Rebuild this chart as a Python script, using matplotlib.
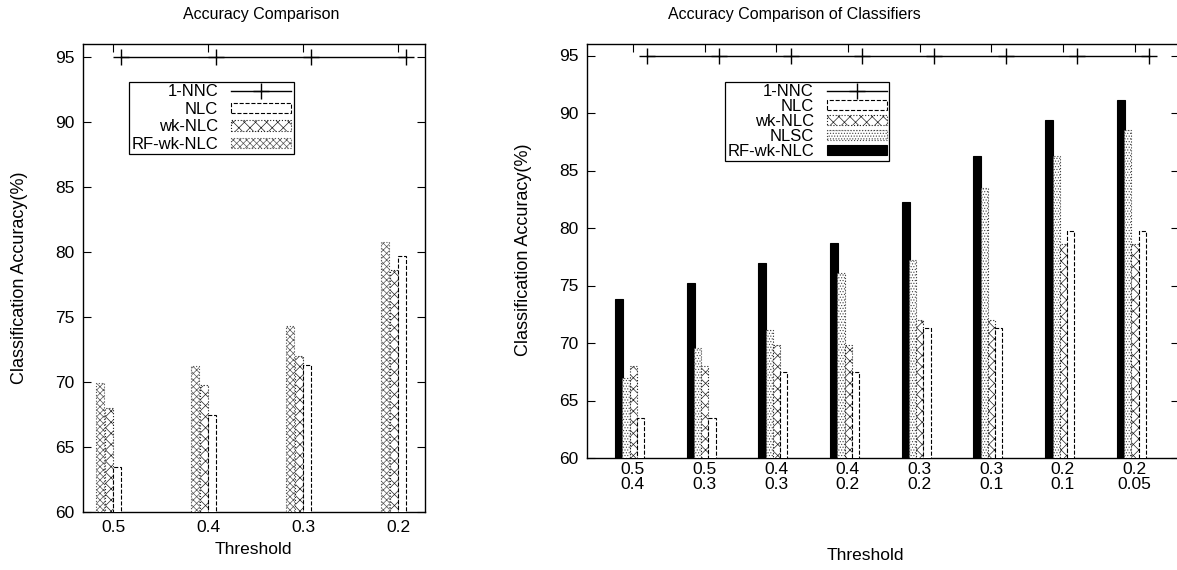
import numpy as np
import matplotlib
matplotlib.use("Agg")
from matplotlib import pyplot as plt
from matplotlib.lines import Line2D

plt.rcParams['font.family'] = ['Liberation Sans', 'DejaVu Sans']
plt.rcParams['hatch.linewidth'] = 0.5

# left chart data
thr_left = ["0.5", "0.4", "0.3", "0.2"]
nnc_left = [95, 95, 95, 95]
nlc_left = [63.5, 67.5, 71.3, 79.7]
wk_left = [68.0, 69.8, 72.0, 78.6]
rf_left = [69.9, 71.2, 74.3, 80.8]

# right chart data
thr_right = ["0.5\n0.4", "0.5\n0.3", "0.4\n0.3", "0.4\n0.2",
             "0.3\n0.2", "0.3\n0.1", "0.2\n0.1", "0.2\n0.05"]
nnc_right = [95, 95, 95, 95, 95, 95, 95, 95]
nlc_right = [63.5, 63.5, 67.5, 67.5, 71.3, 71.3, 79.7, 79.7]
wk_right = [68.0, 68.0, 69.8, 69.8, 72.0, 72.0, 78.6, 78.6]
nlsc_right = [67.0, 69.6, 71.1, 76.1, 77.2, 83.5, 86.3, 88.5]
rf_right = [73.8, 75.2, 77.0, 78.7, 82.3, 86.3, 89.4, 91.1]

W, H = 1177, 570
fig = plt.figure(figsize=(W / 100, H / 100), dpi=100)

def px_axes(x0, y0, x1, y1):
    return fig.add_axes([x0 / W, 1 - y1 / H, (x1 - x0) / W, (y1 - y0) / H])

ax1 = px_axes(83, 44, 425, 512)
ax2 = px_axes(587, 44, 1179, 458)

nlc_style = dict(facecolor='white', edgecolor='black', linestyle='--', linewidth=0.8)
wk_style = dict(facecolor='white', edgecolor='#222222', hatch='xxx', linestyle=':', linewidth=0.8)
rfl_style = dict(facecolor='white', edgecolor='#555555', hatch='xxxxx', linestyle=':', linewidth=0.8)
nlsc_style = dict(facecolor='white', edgecolor='#444444', hatch='......', linestyle=':', linewidth=0.8)
rfr_style = dict(facecolor='black', edgecolor='black', linewidth=0.8)

fs = 12.5
lfs = 12

# ---- left ----
x = np.arange(len(thr_left))
bw = 0.085
ax1.bar(x - 0.14, rf_left, bw, zorder=3, **rfl_style)
ax1.bar(x - 0.05, wk_left, bw, zorder=3, **wk_style)
ax1.bar(x + 0.035, nlc_left, bw, zorder=3, **nlc_style)
ax1.plot(x + 0.08, nnc_left, color='black', lw=1, marker='+', ms=11, mew=1, zorder=4)
ax1.set_xlim(-0.32, 3.28)
ax1.set_ylim(60, 96)
ax1.set_xticks(x)
ax1.set_xticklabels(thr_left)

h1 = [Line2D([], [], color='black', lw=1, marker='+', ms=11, mew=1),
      plt.Rectangle((0, 0), 1, 1, **nlc_style),
      plt.Rectangle((0, 0), 1, 1, **wk_style),
      plt.Rectangle((0, 0), 1, 1, **rfl_style)]
ax1.legend(h1, ["1-NNC", "NLC", "wk-NLC", "RF-wk-NLC"], loc='upper left',
           bbox_to_anchor=(0.134, 0.919), borderaxespad=0, markerfirst=False,
           fancybox=False, framealpha=1, edgecolor='black', fontsize=lfs,
           labelspacing=0.15, borderpad=0.15, handlelength=3.6, handleheight=0.6,
           handletextpad=0.8).get_frame().set_linewidth(0.9)

# ---- right ----
x2 = np.arange(len(thr_right))
bw2 = 0.1
ax2.bar(x2 - 0.195, rf_right, bw2 + 0.01, zorder=3, **rfr_style)
ax2.bar(x2 - 0.095, nlsc_right, bw2, zorder=3, **nlsc_style)
ax2.bar(x2 + 0.005, wk_right, bw2, zorder=3, **wk_style)
ax2.bar(x2 + 0.105, nlc_right, bw2, zorder=3, **nlc_style)
ax2.plot(x2 + 0.2, nnc_right, color='black', lw=1, marker='+', ms=11, mew=1, zorder=4)
ax2.set_xlim(-0.64, 7.62)
ax2.set_ylim(60, 96)
ax2.set_xticks(x2)
ax2.set_xticklabels(thr_right, linespacing=0.95)

h2 = [Line2D([], [], color='black', lw=1, marker='+', ms=11, mew=1),
      plt.Rectangle((0, 0), 1, 1, **nlc_style),
      plt.Rectangle((0, 0), 1, 1, **wk_style),
      plt.Rectangle((0, 0), 1, 1, **nlsc_style),
      plt.Rectangle((0, 0), 1, 1, **rfr_style)]
ax2.legend(h2, ["1-NNC", "NLC", "wk-NLC", "NLSC", "RF-wk-NLC"], loc='upper left',
           bbox_to_anchor=(0.2335, 0.908), borderaxespad=0, markerfirst=False,
           fancybox=False, framealpha=1, edgecolor='black', fontsize=lfs,
           labelspacing=0.0, borderpad=0.12, handlelength=3.6, handleheight=0.5,
           handletextpad=0.8).get_frame().set_linewidth(0.9)

for ax in (ax1, ax2):
    ax.set_yticks(np.arange(60, 96, 5))
    ax.tick_params(direction='in', length=6, width=0.8, top=True, right=True,
                   labelsize=fs, pad=6)
    for s in ax.spines.values():
        s.set_linewidth(1.0)
ax2.tick_params(axis='x', pad=3)

fig.text(261 / W, 1 - 14 / H, "Accuracy Comparison", ha='center', va='center', fontsize=11.5)
fig.text(794 / W, 1 - 14 / H, "Accuracy Comparison of Classifiers", ha='center', va='center', fontsize=11.5)
fig.text(20 / W, 1 - 278 / H, "Classification Accuracy(%)", rotation=90, ha='center', va='center', fontsize=13)
fig.text(523 / W, 1 - 250 / H, "Classification Accuracy(%)", rotation=90, ha='center', va='center', fontsize=13)
fig.text(253 / W, 1 - 549 / H, "Threshold", ha='center', va='center', fontsize=fs)
fig.text(865 / W, 1 - 555 / H, "Threshold", ha='center', va='center', fontsize=fs)

fig.savefig("out.png", dpi=100)
